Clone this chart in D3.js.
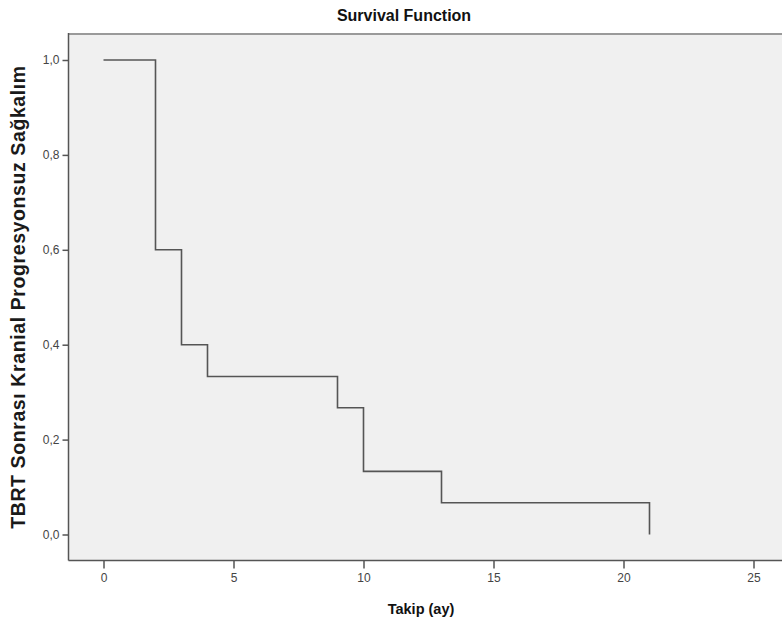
<!DOCTYPE html>
<html>
<head>
<meta charset="utf-8">
<script src="https://cdn.jsdelivr.net/npm/d3@7"></script>
<style>
  body { margin: 0; background: #fff; }
  text { font-family: Arial, "Liberation Sans", sans-serif; }
</style>
</head>
<body>
<div id="chart"></div>
<script>
// Kaplan-Meier adimlari
var zaman = [0, 2, 3, 4, 9, 10, 13, 21];
var sagkalim = [1.0, 0.6, 0.4, 0.333, 0.267, 0.133, 0.067, 0.0];
var xTicks = [0, 5, 10, 15, 20, 25];
var yTicks = [0, 0.2, 0.4, 0.6, 0.8, 1.0];

var width = 782, height = 624;
var solKenar = 68.5, ustKenar = 34, altKenar = 560.5;

var svg = d3.select("#chart").append("svg")
    .attr("width", width).attr("height", height);

var x = d3.scaleLinear().domain([0, 25]).range([103.5, 753.5]);
var y = d3.scaleLinear().domain([0, 1]).range([534.5, 60]);

// arka plan
svg.append("rect")
    .attr("x", solKenar).attr("y", ustKenar)
    .attr("width", width - solKenar + 10).attr("height", altKenar - ustKenar)
    .style("fill", "#f0f0f0");

// ust cizgi (gri, kalin)
svg.append("line")
    .attr("x1", solKenar).attr("x2", width + 5)
    .attr("y1", ustKenar).attr("y2", ustKenar)
    .style("stroke", "#9a9a9a").style("stroke-width", 2);

// eksenler
var xAxis = d3.axisBottom(x).tickValues(xTicks).tickSize(8).tickSizeOuter(0)
    .tickFormat(d3.format("d"));
var gx = svg.append("g").attr("transform", "translate(0," + altKenar + ")").call(xAxis);

var yAxis = d3.axisLeft(y).tickValues(yTicks).tickSize(6).tickSizeOuter(0)
    .tickFormat(function(d) { return d3.format(".1f")(d).replace(".", ","); });
var gy = svg.append("g").attr("transform", "translate(" + solKenar + ",0)").call(yAxis);

[gx, gy].forEach(function(g) {
  g.select(".domain").remove();
  g.selectAll(".tick line").style("stroke", "#555").style("stroke-width", 1.5);
  g.selectAll(".tick text").style("fill", "#444").style("font-size", "12px");
});
gx.selectAll(".tick text").attr("dy", "0.85em");

// sol ve alt cerceve
svg.append("line")
    .attr("x1", solKenar).attr("x2", solKenar).attr("y1", ustKenar - 1).attr("y2", altKenar)
    .style("stroke", "#555").style("stroke-width", 1.5);
svg.append("line")
    .attr("x1", solKenar).attr("x2", width + 5).attr("y1", altKenar).attr("y2", altKenar)
    .style("stroke", "#555").style("stroke-width", 1.5);

// sagkalim egrisi
var line = d3.line()
    .x(function(d, i) { return x(zaman[i]); })
    .y(function(d) { return y(d); })
    .curve(d3.curveStepAfter);

svg.append("path")
    .attr("d", line(sagkalim))
    .style("fill", "none")
    .style("stroke", "#555")
    .style("stroke-width", 1.6);

// basliklar
svg.append("text")
    .attr("x", 404).attr("y", 21)
    .attr("text-anchor", "middle")
    .style("font-size", "16px").style("font-weight", "bold").style("fill", "#111")
    .text("Survival Function");

svg.append("text")
    .attr("x", 421).attr("y", 614)
    .attr("text-anchor", "middle")
    .style("font-size", "14.5px").style("font-weight", "bold").style("fill", "#111")
    .text("Takip (ay)");

svg.append("text")
    .attr("transform", "translate(25,297) rotate(-90)")
    .attr("text-anchor", "middle")
    .style("font-size", "19.5px").style("font-weight", "bold").style("fill", "#1a1a1a")
    .style("letter-spacing", "0.6px")
    .text("TBRT Sonrası Kranial Progresyonsuz Sağkalım");
</script>
</body>
</html>
